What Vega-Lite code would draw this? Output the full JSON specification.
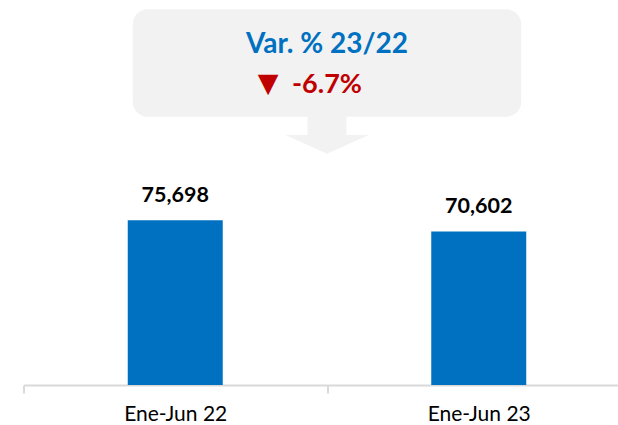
{
  "$schema": "https://vega.github.io/schema/vega-lite/v6.json",
  "width": 607,
  "height": 385,
  "autosize": {"type": "none"},
  "padding": {"left": 23.5, "top": 0, "right": 0, "bottom": 40},
  "background": "white",
  "config": {
    "view": {"stroke": null},
    "font": "Lato"
  },
  "resolve": {"scale": {"x": "independent"}},
  "layer": [
    {
      "data": {"values": [
        {"period": "Ene-Jun 22", "value": 75698},
        {"period": "Ene-Jun 23", "value": 70602}
      ]},
      "encoding": {
        "x": {
          "field": "period", "type": "nominal", "sort": null,
          "scale": {"paddingInner": 0, "paddingOuter": 0},
          "axis": {
            "title": null, "labelAngle": 0, "tickBand": "extent",
            "domainColor": "#d9d9d9", "domainWidth": 2,
            "tickColor": "#d9d9d9", "tickWidth": 2, "tickSize": 8,
            "labelFont": "Lato", "labelFontSize": 21, "labelColor": "#000000",
            "labelBaseline": "alphabetic", "labelPadding": 27
          }
        },
        "y": {"field": "value", "type": "quantitative", "scale": {"domain": [0, 177000], "nice": false, "zero": true}, "axis": null}
      },
      "layer": [
        {"mark": {"type": "bar", "color": "#0070c0", "width": {"band": 0.313}}},
        {"mark": {"type": "text", "baseline": "alphabetic", "dy": -18, "fontSize": 21.5, "fontWeight": "bold", "color": "#000000", "font": "Lato"},
         "encoding": {"text": {"field": "value", "type": "quantitative", "format": ","}}}
      ]
    },
    {
      "layer": [
        {
          "data": {"values": [{"x": 0.36, "x2": 1.64, "y": 172700, "y2": 123300}]},
          "mark": {"type": "rect", "color": "#f2f2f2", "cornerRadius": 15},
          "encoding": {
            "x": {"field": "x", "type": "quantitative", "scale": {"domain": [0, 2], "nice": false, "zero": false}, "axis": null},
            "x2": {"field": "x2"},
            "y": {"field": "y", "type": "quantitative", "axis": null},
            "y2": {"field": "y2"}
          }
        },
        {
          "data": {"values": [{"x": 0.936, "x2": 1.064, "y": 123400, "y2": 114935}]},
          "mark": {"type": "rect", "color": "#f2f2f2"},
          "encoding": {
            "x": {"field": "x", "type": "quantitative", "axis": null},
            "x2": {"field": "x2"},
            "y": {"field": "y", "type": "quantitative", "axis": null},
            "y2": {"field": "y2"}
          }
        },
        {
          "data": {"values": [
            {"x": 0.863, "y": 114935, "y2": 114935},
            {"x": 1.0, "y": 114935, "y2": 106340},
            {"x": 1.137, "y": 114935, "y2": 114935}
          ]},
          "mark": {"type": "area", "color": "#f2f2f2", "interpolate": "linear"},
          "encoding": {
            "x": {"field": "x", "type": "quantitative", "axis": null},
            "y": {"field": "y", "type": "quantitative", "axis": null},
            "y2": {"field": "y2"}
          }
        },
        {
          "data": {"values": [{"x": 1.0, "y": 152500, "label": "Var. % 23/22"}]},
          "mark": {"type": "text", "align": "center", "baseline": "alphabetic", "fontSize": 28, "fontWeight": "bold", "color": "#0070c0", "font": "Lato"},
          "encoding": {
            "x": {"field": "x", "type": "quantitative", "axis": null},
            "y": {"field": "y", "type": "quantitative", "axis": null},
            "text": {"field": "label"}
          }
        },
        {
          "data": {"values": [{"x": 1.0, "y": 134380, "label": "-6.7%"}]},
          "mark": {"type": "text", "align": "center", "baseline": "alphabetic", "fontSize": 27, "fontWeight": "bold", "color": "#c00000", "font": "Lato"},
          "encoding": {
            "x": {"field": "x", "type": "quantitative", "axis": null},
            "y": {"field": "y", "type": "quantitative", "axis": null},
            "text": {"field": "label"}
          }
        },
        {
          "data": {"values": [{"x": 0.806, "y": 138200, "label": "▼"}]},
          "mark": {"type": "text", "align": "center", "baseline": "middle", "fontSize": 27, "color": "#c00000", "font": "DejaVu Sans"},
          "encoding": {
            "x": {"field": "x", "type": "quantitative", "axis": null},
            "y": {"field": "y", "type": "quantitative", "axis": null},
            "text": {"field": "label"}
          }
        }
      ]
    }
  ]
}
